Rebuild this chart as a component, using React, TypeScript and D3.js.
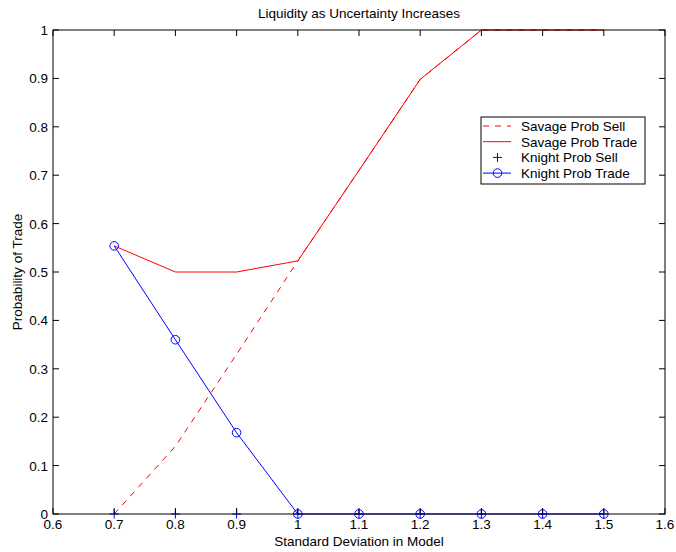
import React from "react";
import * as d3 from "d3";

const xs = [0.7, 0.8, 0.9, 1.0, 1.1, 1.2, 1.3, 1.4, 1.5];
const savageSell = [0, 0.14, 0.33, 0.523, 0.71, 0.898, 1, 1, 1];
const savageTrade = [0.554, 0.5, 0.5, 0.523, 0.71, 0.898, 1, 1, 1];
const knightSell = [0, 0, 0, 0, 0, 0, 0, 0, 0];
const knightTrade = [0.554, 0.36, 0.168, 0, 0, 0, 0, 0, 0];
const xTicks = [0.6, 0.7, 0.8, 0.9, 1, 1.1, 1.2, 1.3, 1.4, 1.5, 1.6];
const yTicks = [0, 0.1, 0.2, 0.3, 0.4, 0.5, 0.6, 0.7, 0.8, 0.9, 1];
const legendLabels = ["Savage Prob Sell", "Savage Prob Trade", "Knight Prob Sell", "Knight Prob Trade"];

const W = 676, H = 552;
const L = 53, R = 665, T = 30, B = 514;
const FS = 13.5;
const font = "'Liberation Sans', Arial, Helvetica, sans-serif";

export default function App() {
  const x = d3.scaleLinear().domain([0.6, 1.6]).range([L, R]);
  const y = d3.scaleLinear().domain([0, 1]).range([B, T]);
  const line = d3.line<number>().x((_, i) => x(xs[i])).y((v) => y(v));
  const fmt = (v: number) => (Number.isInteger(v) ? String(v) : String(+v.toFixed(1)));
  const red = "#ff0000", blue = "#0000ff";
  const lx = 481, ly = 117, lw = 164, lh = 67;
  const rowY = (i: number) => ly + 9 + i * 15.7;
  return (
    <svg width={W} height={H} style={{ position: "absolute", left: 0, top: 0, background: "#fff" }} fontFamily={font}>
      <rect x={0} y={0} width={W} height={H} fill="#fff" />
      <text x={(L + R) / 2} y={18} textAnchor="middle" fontSize={FS}>Liquidity as Uncertainty Increases</text>
      {/* data */}
      <path d={line(savageSell) || ""} fill="none" stroke={red} strokeWidth={1} strokeDasharray="6,6" />
      <path d={line(savageTrade) || ""} fill="none" stroke={red} strokeWidth={1} />
      <path d={line(knightTrade) || ""} fill="none" stroke={blue} strokeWidth={1} />
      {knightTrade.map((v, i) => (
        <circle key={"c" + i} cx={x(xs[i])} cy={y(v)} r={4.3} fill="none" stroke={blue} strokeWidth={1} />
      ))}
      {knightSell.map((v, i) => (
        <g key={"p" + i} stroke={blue} strokeWidth={1}>
          <line x1={x(xs[i]) - 4.5} x2={x(xs[i]) + 4.5} y1={y(v)} y2={y(v)} />
          <line x1={x(xs[i])} x2={x(xs[i])} y1={y(v) - 4.5} y2={y(v) + 4.5} />
        </g>
      ))}
      {/* axes box */}
      <rect x={L} y={T} width={R - L} height={B - T} fill="none" stroke="#000" strokeWidth={1} />
      {xTicks.map((t) => (
        <g key={"xt" + t}>
          <line x1={x(t)} x2={x(t)} y1={B} y2={B - 6} stroke="#000" />
          <line x1={x(t)} x2={x(t)} y1={T} y2={T + 6} stroke="#000" />
          <text x={x(t)} y={B + 15} textAnchor="middle" fontSize={FS}>{fmt(t)}</text>
        </g>
      ))}
      {yTicks.map((t) => (
        <g key={"yt" + t}>
          <line x1={L} x2={L + 6} y1={y(t)} y2={y(t)} stroke="#000" />
          <line x1={R} x2={R - 6} y1={y(t)} y2={y(t)} stroke="#000" />
          <text x={L - 5} y={y(t) + 5} textAnchor="end" fontSize={FS}>{fmt(t)}</text>
        </g>
      ))}
      <text x={(L + R) / 2} y={B + 32} textAnchor="middle" fontSize={FS}>Standard Deviation in Model</text>
      <text transform={`translate(22,${(T + B) / 2}) rotate(-90)`} textAnchor="middle" fontSize={FS}>Probability of Trade</text>
      {/* legend */}
      <rect x={lx} y={ly} width={lw} height={lh} fill="#fff" stroke="#000" strokeWidth={1} />
      <line x1={lx + 2} x2={lx + 30} y1={rowY(0)} y2={rowY(0)} stroke={red} strokeDasharray="6,6" />
      <line x1={lx + 2} x2={lx + 30} y1={rowY(1)} y2={rowY(1)} stroke={red} />
      <g stroke={blue}>
        <line x1={lx + 12} x2={lx + 21} y1={rowY(2)} y2={rowY(2)} />
        <line x1={lx + 16.5} x2={lx + 16.5} y1={rowY(2) - 4.5} y2={rowY(2) + 4.5} />
      </g>
      <line x1={lx + 2} x2={lx + 30} y1={rowY(3)} y2={rowY(3)} stroke={blue} />
      <circle cx={lx + 16.5} cy={rowY(3)} r={4.3} fill="none" stroke={blue} />
      {legendLabels.map((s, i) => (
        <text key={s} x={lx + 40} y={rowY(i) + 5} fontSize={FS}>{s}</text>
      ))}
    </svg>
  );
}
